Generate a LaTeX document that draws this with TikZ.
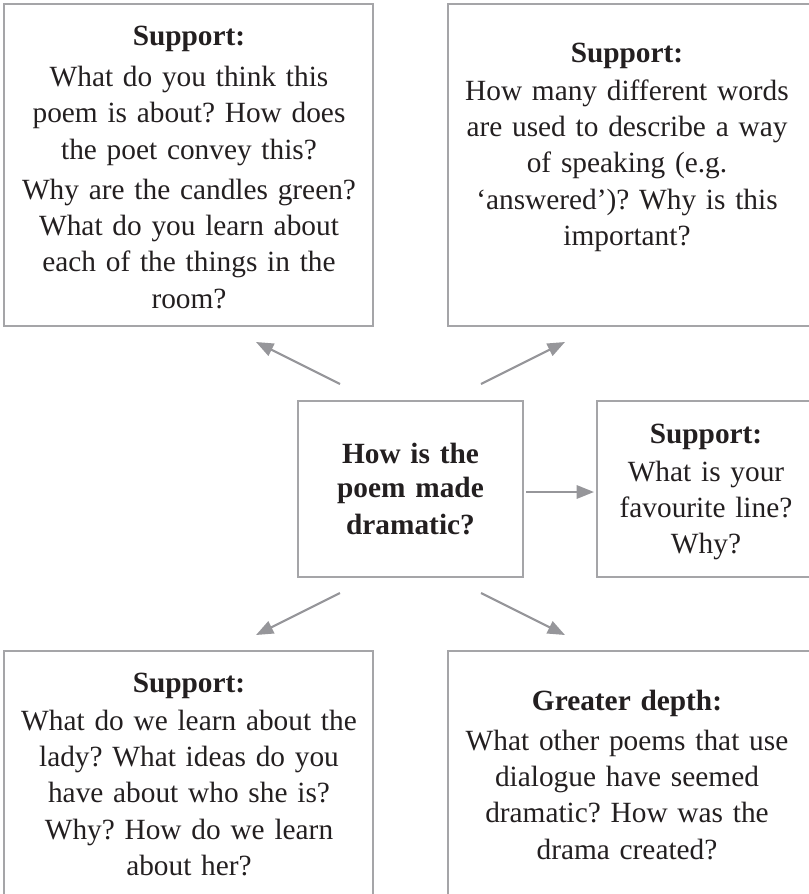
\documentclass[tikz,border=0pt]{standalone}
\usepackage{fontspec}
\setmainfont{Liberation Serif}
\usetikzlibrary{arrows.meta}
\definecolor{boxgray}{RGB}{165,165,168}
\definecolor{arrgray}{RGB}{150,150,154}
\definecolor{ink}{RGB}{35,31,32}
\frenchspacing
\tikzset{
  frame/.style={draw=boxgray, line width=1.1pt, inner sep=0pt, fill=none},
  txt/.style={anchor=base, align=center, inner sep=0pt, text=ink,
    font=\frenchspacing\fontsize{22}{27.2}\selectfont},
  conn/.style={draw=arrgray, line width=1.6pt,
    -{Triangle[length=13pt,width=10pt]}}
}
\begin{document}
\begin{tikzpicture}[x=0.75pt,y=-0.75pt]
\useasboundingbox (0,0) rectangle (809,894);
\clip (0,0) rectangle (809,894);
% boxes
\node[frame, minimum width=369*0.75pt, minimum height=322*0.75pt] (tl) at (188.5,165) {};
\node[frame, minimum width=364*0.75pt, minimum height=322*0.75pt] (tr) at (630,165) {};
\node[frame, minimum width=225*0.75pt, minimum height=176*0.75pt] (cc) at (410.5,489) {};
\node[frame, minimum width=218*0.75pt, minimum height=176*0.75pt] (rr) at (706,489) {};
\node[frame, minimum width=369*0.75pt, minimum height=249*0.75pt] (bl) at (188.5,775.5) {};
\node[frame, minimum width=364*0.75pt, minimum height=249*0.75pt] (br) at (630,775.5) {};
% texts
\node[txt, text width=360*0.75pt] (tltext) at (189,45) {\textbf{Support:}\\[4pt]
What do you think this\\ poem is about? How does\\ the poet convey this?\\[3pt]
Why are the candles green?\\ What do you learn about\\ each of the things in the\\ room?};
\node[txt, text width=355*0.75pt] (trtext) at (627,62) {\textbf{Support:}\\[1.5pt]
How many different words\\ are used to describe a way\\ of speaking (e.g.\\ ‘answered’)? Why is this\\ important?};
\node[txt, text width=215*0.75pt] (cctext) at (410.5,463) {\textbf{How is the}\\[-1pt] \textbf{poem made}\\ \textbf{dramatic?}};
\node[txt, text width=215*0.75pt] (rrtext) at (706,443) {\textbf{Support:}\\[1.5pt]
What is your\\ favourite line?\\ Why?};
\node[txt, text width=360*0.75pt] (bltext) at (189,692) {\textbf{Support:}\\[1.5pt]
What do we learn about the\\ lady? What ideas do you\\ have about who she is?\\ Why? How do we learn\\ about her?};
\node[txt, text width=355*0.75pt] (brtext) at (627,710) {\textbf{Greater depth:}\\[3pt]
What other poems that use\\ dialogue have seemed\\ dramatic? How was the\\ drama created?};
% connectors
\coordinate (a1s) at (340,384); \coordinate (a1e) at (256,342);
\coordinate (a2s) at (481,384); \coordinate (a2e) at (565,342);
\coordinate (a3s) at (526,492); \coordinate (a3e) at (594,492);
\coordinate (a4s) at (340,593); \coordinate (a4e) at (256,635);
\coordinate (a5s) at (481,593); \coordinate (a5e) at (565,635);
\draw[conn] (a1s) -- (a1e);
\draw[conn] (a2s) -- (a2e);
\draw[conn] (a3s) -- (a3e);
\draw[conn] (a4s) -- (a4e);
\draw[conn] (a5s) -- (a5e);
\end{tikzpicture}
\end{document}
